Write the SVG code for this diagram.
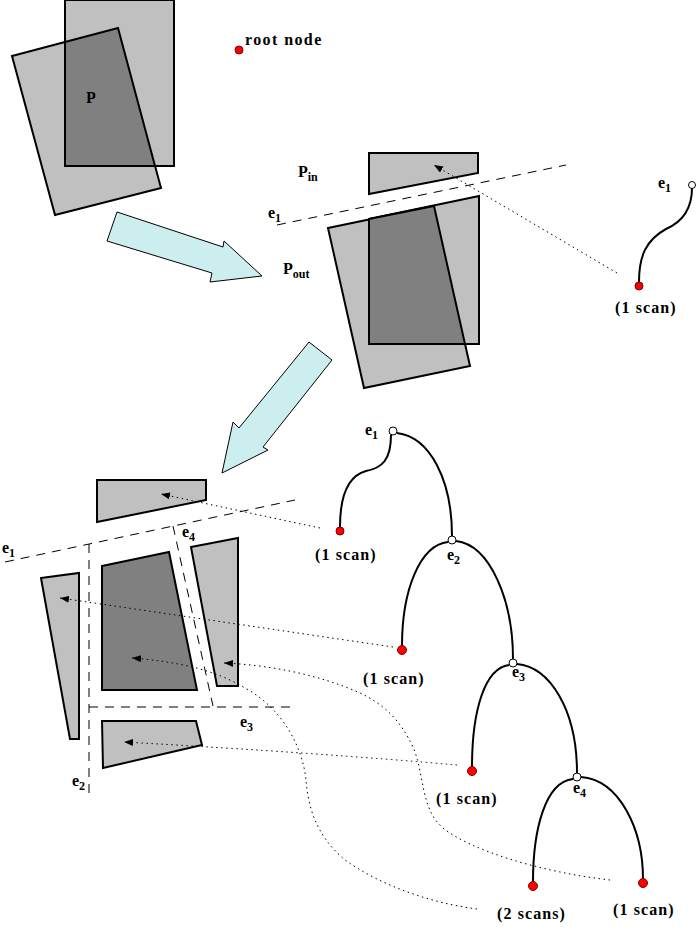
<svg xmlns="http://www.w3.org/2000/svg" width="697" height="950" viewBox="0 0 697 950">
<style>
.lt{fill:#C0C0C0;stroke:#000;stroke-width:2;stroke-linejoin:miter}
.dk{fill:#808080;stroke:#000;stroke-width:2}
.arr{fill:#CCEEEE;stroke:#000;stroke-width:1}
.dash{fill:none;stroke:#000;stroke-width:1;stroke-dasharray:9,7}
.dot{fill:none;stroke:#000;stroke-width:1;stroke-dasharray:1.5,3.5}
.br{fill:none;stroke:#000;stroke-width:2}
.leaf{fill:#FF0000;stroke:#800000;stroke-width:1}
.int{fill:#FFF;stroke:#000;stroke-width:1}
text{font-family:"Liberation Serif","Times New Roman",serif;font-weight:bold;font-size:16px;fill:#000}
.sc{letter-spacing:1.1px}
.sub{font-size:12px}
</style>
<defs>
<marker id="ah" markerUnits="userSpaceOnUse" markerWidth="10" markerHeight="8" refX="9" refY="3.5" orient="auto">
<path d="M0,0 L9,3.5 L0,7 z" fill="#000"/>
</marker>
</defs>

<g id="polygon-P">
<polygon class="lt" points="12,56 118,28 161,188 55,215"/>
<rect class="lt" x="65" y="0" width="109" height="166"/>
<polygon class="dk" points="65,42 118,28 155,166 65,166"/>
<text x="86" y="103">P</text>
</g>

<g id="root-node">
<circle class="leaf" cx="239" cy="50" r="4"/>
<text x="245" y="45" style="letter-spacing:1.4px">root node</text>
</g>

<g id="arrow-1">
<polygon class="arr" points="117,212 223,247 224,241 262,276 210,282 212,273 107,241"/>
</g>
<g id="arrow-2">
<polygon class="arr" points="309,342 332,360 263,447 268,450 222,473 233,422 239,428"/>
</g>

<g id="split-e1">
<line class="dash" x1="277" y1="225" x2="566" y2="165"/>
<text x="268" y="218">e<tspan class="sub" dy="4">1</tspan></text>
</g>

<g id="P-in">
<polygon class="lt" points="369,153 478,153 478,173 369,194"/>
<text x="298" y="177">P<tspan class="sub" dy="4">in</tspan></text>
</g>

<g id="P-out">
<polygon class="lt" points="328,228 434,206 470,366 364,388"/>
<polygon class="lt" points="369,219 479,196 479,344 369,344"/>
<polygon class="dk" points="369,219 434,206 465,344 369,344"/>
<text x="283" y="274">P<tspan class="sub" dy="4">out</tspan></text>
</g>

<g id="tree-1">
<path class="br" d="M692,188 C692,210 682,222 666,229 C646,240 639,256 639,282"/>
<circle class="int" cx="692" cy="185" r="3.5"/>
<circle class="leaf" cx="639" cy="286" r="4"/>
<text x="658" y="188">e<tspan class="sub" dy="4">1</tspan></text>
<text class="sc" x="615" y="313">(1 scan)</text>
</g>

<g id="split-lines">
<line class="dash" x1="5" y1="562" x2="295" y2="500"/>
<line class="dash" x1="89" y1="544" x2="89" y2="793"/>
<line class="dash" x1="89" y1="707" x2="297" y2="707"/>
<line class="dash" x1="173" y1="526" x2="213" y2="706"/>
<text x="2" y="553">e<tspan class="sub" dy="4">1</tspan></text>
<text x="72" y="786">e<tspan class="sub" dy="4">2</tspan></text>
<text x="240" y="727">e<tspan class="sub" dy="4">3</tspan></text>
<text x="182" y="537">e<tspan class="sub" dy="4">4</tspan></text>
</g>

<g id="piece-top">
<polygon class="lt" points="97,480 206,480 206,500 97,522"/>
</g>
<g id="piece-left">
<polygon class="lt" points="41,578 79,573 79,739 70,739"/>
</g>
<g id="piece-center">
<polygon class="dk" points="102,566 169,552 197,690 102,690"/>
</g>
<g id="piece-right">
<polygon class="lt" points="191,547 238,538 238,686 217,686"/>
</g>
<g id="piece-bottom">
<polygon class="lt" points="102,721 196,721 202,745 103,768"/>
</g>

<g id="tree-2">
<path class="br" d="M391,435 C391,460 382,468 366,471 C348,476 340,495 340,527"/>
<path class="br" d="M397,433 C430,437 452,480 452,536"/>
<path class="br" d="M448,542 C420,545 402,590 402,646"/>
<path class="br" d="M456,541 C490,545 513,600 513,659"/>
<path class="br" d="M509,665 C485,668 472,710 472,767"/>
<path class="br" d="M517,664 C550,667 577,710 577,773"/>
<path class="br" d="M573,779 C545,782 533,830 533,882"/>
<path class="br" d="M581,777 C620,780 643,830 643,879"/>
<circle class="int" cx="393" cy="431" r="4"/>
<circle class="int" cx="452" cy="540" r="4"/>
<circle class="int" cx="513" cy="663" r="4"/>
<circle class="int" cx="577" cy="777" r="4"/>
<circle class="leaf" cx="340" cy="531" r="4"/>
<circle class="leaf" cx="402" cy="650" r="4.5"/>
<circle class="leaf" cx="472" cy="771" r="4.5"/>
<circle class="leaf" cx="533" cy="886" r="4.5"/>
<circle class="leaf" cx="643" cy="883" r="4.5"/>
<text x="365" y="435">e<tspan class="sub" dy="4">1</tspan></text>
<text x="447" y="560">e<tspan class="sub" dy="4">2</tspan></text>
<text x="512" y="677">e<tspan class="sub" dy="4">3</tspan></text>
<text x="573" y="793">e<tspan class="sub" dy="4">4</tspan></text>
<text class="sc" x="315" y="560">(1 scan)</text>
<text class="sc" x="363" y="684">(1 scan)</text>
<text class="sc" x="436" y="804">(1 scan)</text>
<text class="sc" x="497" y="919">(2 scans)</text>
<text class="sc" x="613" y="915">(1 scan)</text>
</g>

<g id="connectors">
<path class="dot" marker-end="url(#ah)" d="M617,273 L434,165"/>
<path class="dot" marker-end="url(#ah)" d="M320,528 L161,494"/>
<path class="dot" marker-end="url(#ah)" d="M393,647 L60,598"/>
<path class="dot" marker-end="url(#ah)" d="M610,880 C540,872 470,850 443,828 C420,808 425,775 413,747 C400,720 385,705 360,693 C320,675 270,665 224,663"/>
<path class="dot" marker-end="url(#ah)" d="M477,909 C430,903 380,885 345,860 C315,835 308,805 306,780 C303,750 285,710 245,688 C215,670 180,662 132,658"/>
<path class="dot" marker-end="url(#ah)" d="M457,765 Q320,753 124,742"/>
</g>
</svg>
